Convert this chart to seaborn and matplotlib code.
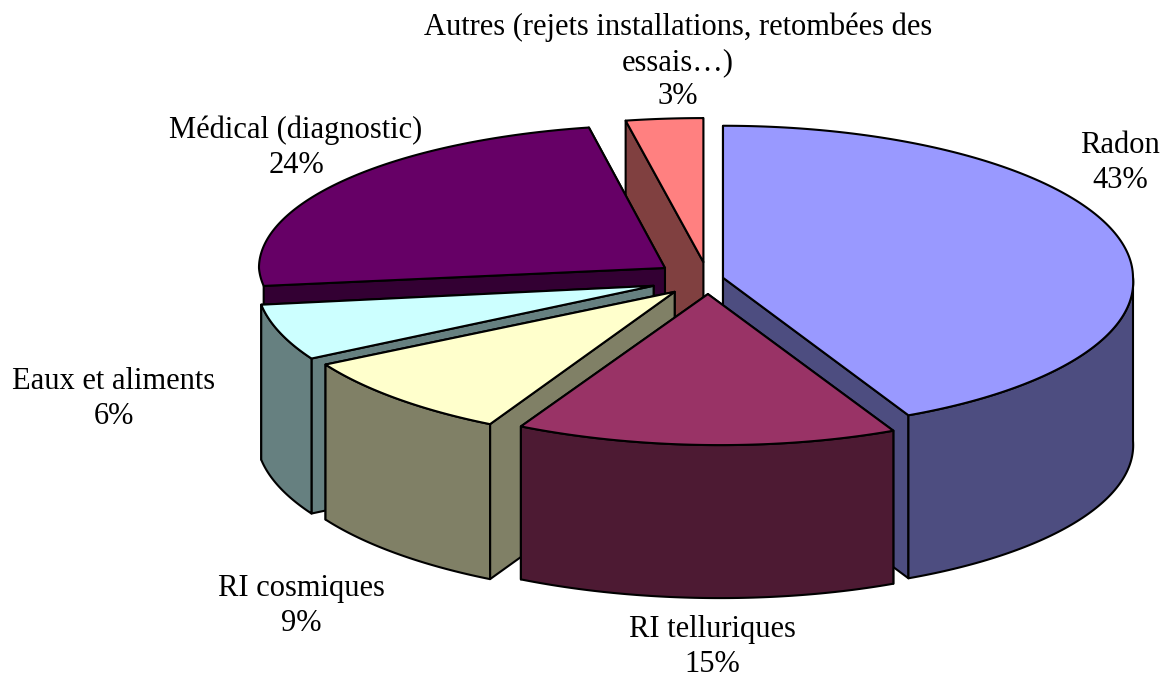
import numpy as np
import matplotlib.pyplot as plt
import seaborn as sns

labels = ["Radon", "RI telluriques", "RI cosmiques", "Eaux et aliments",
          "Médical (diagnostic)", "Autres (rejets installations, retombées des\nessais…)"]
shares = [43, 15, 9, 6, 24, 3]

# look of the exploded 3d pie, one entry per slice
colors = ["#9999FF", "#993366", "#FFFFCC", "#CCFFFF", "#660066", "#FF8080"]
explode = [0.0375, 0.10, 0.12, 0.1455, 0.131, 0.118]
rx = [410, 410, 405, 397, 406, 415]
ry = [152, 151, 151, 151, 143, 144]
depth = [163, 153, 155, 155, 155, 155]
label_pos = [(1120, 163), (712, 647), (301, 606), (114, 399), (296, 148), (678, 62)]
draw_order = [5, 4, 3, 2, 0, 1]

cx, cy = 708, 279
skew = 12
min_wall = 0.15

sns.set_theme(style="white")
plt.rcParams["font.family"] = ["Liberation Serif", "DejaVu Serif"]

fig, ax = plt.subplots(figsize=(11.68, 6.77), dpi=100)
ax.set_position([0, 0, 1, 1])
ax.set_xlim(0, 1168)
ax.set_ylim(677, 0)
ax.axis("off")


def rim(theta, a, b):
    # theta runs clockwise from 12 o'clock, y grows downwards
    s, c = np.sin(theta), np.cos(theta)
    return a * s + skew * np.clip(-c, 0, None), -b * c


def draw_slice(t0, t1, i):
    a, b, d = rx[i], ry[i], depth[i]
    top = sns.color_palette(colors)[i]
    side = tuple(0.5 * v for v in top)
    style = dict(edgecolor="black", linewidth=1.5, joinstyle="round")

    mid = (t0 + t1) / 2
    ox, oy = rim(mid, a, b)
    ax0, ay0 = cx + explode[i] * ox, cy + explode[i] * oy

    cuts = []
    for t in (t0, t1):
        x, y = rim(t, a, b)
        cuts.append((ay0 + y, ax0 + x))
    # far cut first, near cut over it
    for y, x in sorted(cuts):
        ax.fill([ax0, x, x, ax0], [ay0, y, y + d, ay0 + d], facecolor=side, **style)

    # outer wall, only the part turned to the viewer
    lo, hi = max(t0, np.pi / 2), min(t1, 3 * np.pi / 2)
    if hi - lo > min_wall:
        t = np.linspace(lo, hi, 80)
        x, y = rim(t, a, b)
        x, y = ax0 + x, ay0 + y
        ax.fill(np.r_[x, x[::-1]], np.r_[y, y[::-1] + d], facecolor=side, **style)

    t = np.linspace(t0, t1, 160)
    x, y = rim(t, a, b)
    ax.fill(np.r_[ax0, ax0 + x], np.r_[ay0, ay0 + y], facecolor=top, **style)


edges = np.r_[0, np.cumsum(shares)] / np.sum(shares) * 2 * np.pi
for i in draw_order:
    draw_slice(edges[i], edges[i + 1], i)

for name, share, (x, y) in zip(labels, shares, label_pos):
    ax.text(x, y, f"{name}\n{share}%", ha="center", va="center",
            fontsize=22, color="black", linespacing=1.26)

plt.savefig("out.png", dpi=100)
